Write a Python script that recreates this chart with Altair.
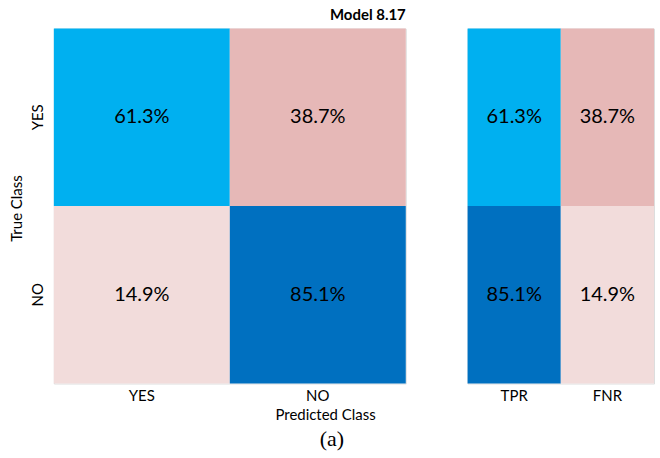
import altair as alt
import pandas as pd

# Confusion matrix (left)
true_class = ["YES", "YES", "NO", "NO"]
pred_class = ["YES", "NO", "YES", "NO"]
cm_values = [61.3, 38.7, 14.9, 85.1]
cm_types = ["TP", "FN", "FP", "TN"]

# Rates (right)
rate_rows = ["YES", "YES", "NO", "NO"]
rate_cols = ["TPR", "FNR", "TPR", "FNR"]
rate_values = [61.3, 38.7, 85.1, 14.9]
rate_types = ["TP", "FN", "TN", "FP"]

type_domain = ["TP", "FN", "FP", "TN"]
type_colors = ["#00B0F0", "#E6B8B7", "#F2DCDB", "#0070C0"]

FONT = "Lato"

cm_df = pd.DataFrame({"true": true_class, "pred": pred_class,
                      "value": cm_values, "kind": cm_types})
rate_df = pd.DataFrame({"row": rate_rows, "col": rate_cols,
                        "value": rate_values, "kind": rate_types})

color = alt.Color("kind:N", scale=alt.Scale(domain=type_domain, range=type_colors), legend=None)

left_base = alt.Chart(cm_df).encode(
    x=alt.X("pred:N", sort=["YES", "NO"],
            scale=alt.Scale(paddingInner=0, paddingOuter=0),
            axis=alt.Axis(title="Predicted Class", labelAngle=0, ticks=False, domain=False,
                          labelFontSize=15, labelFont=FONT, labelPadding=5,
                          titleFontSize=15, titleFont=FONT, titleFontWeight="normal",
                          titleX=272, titlePadding=4)),
    y=alt.Y("true:N", sort=["YES", "NO"],
            scale=alt.Scale(paddingInner=0, paddingOuter=0),
            axis=alt.Axis(title="True Class", labelAngle=270, ticks=False, domain=False,
                          labelFontSize=15, labelFont=FONT, labelPadding=8,
                          labelBaseline="bottom", labelAlign="center",
                          titleFontSize=15, titleFont=FONT, titleFontWeight="normal",
                          titleY=180, titlePadding=6)),
)
left = alt.layer(
    left_base.mark_rect().encode(color=color),
    left_base.transform_calculate(label="format(datum.value, '.1f') + '%'")
    .mark_text(fontSize=20, font=FONT, color="black").encode(text="label:N"),
).properties(width=353, height=356,
             title=alt.TitleParams("Model 8.17", anchor="end", fontSize=15, font=FONT,
                                   fontWeight="bold", offset=6))

right_base = alt.Chart(rate_df).encode(
    x=alt.X("col:N", sort=["TPR", "FNR"],
            scale=alt.Scale(paddingInner=0, paddingOuter=0),
            axis=alt.Axis(title=None, labelAngle=0, ticks=False, domain=False,
                          labelFontSize=15, labelFont=FONT, labelPadding=5)),
    y=alt.Y("row:N", sort=["YES", "NO"],
            scale=alt.Scale(paddingInner=0, paddingOuter=0), axis=None),
)
right = alt.layer(
    right_base.mark_rect().encode(color=color),
    right_base.transform_calculate(label="format(datum.value, '.1f') + '%'")
    .mark_text(fontSize=20, font=FONT, color="black").encode(text="label:N"),
).properties(width=187, height=356)

chart = alt.hconcat(left, right, spacing=60).properties(
    title=alt.TitleParams("(a)", orient="bottom", anchor="middle", fontSize=22,
                          font="Liberation Serif", fontWeight="normal", offset=6),
    padding={"left": 9, "top": 6, "right": 5, "bottom": 5},
).configure_view(stroke=None).configure(background="white")

chart.save("out.html", embed_options={"renderer": "svg", "actions": False})
